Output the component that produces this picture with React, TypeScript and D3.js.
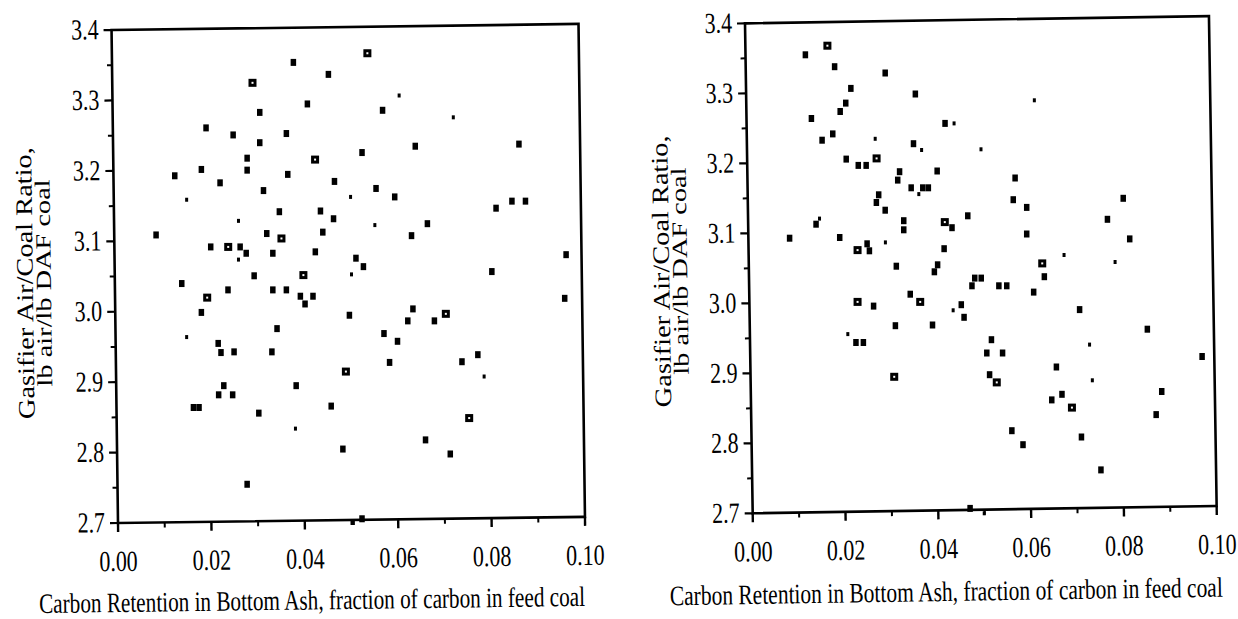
import React from 'react';
import * as d3 from 'd3';

const xTickValues = [0, 0.02, 0.04, 0.06, 0.08, 0.1];
const yTickValues = [2.7, 2.8, 2.9, 3.0, 3.1, 3.2, 3.3, 3.4];
const xTitle = 'Carbon Retention in Bottom Ash, fraction of carbon in feed coal';
const yTitleLine1 = 'Gasifier Air/Coal Ratio,';
const yTitleLine2 = 'lb air/lb DAF coal';

// Left panel: carbon retention (x) vs air/coal ratio (y); marker kind f=filled, o=open, s=small
const leftAsh = [
  0.0375, 0.0288, 0.045, 0.0405, 0.0303, 0.0188, 0.0246, 0.036, 0.0303, 0.0422,
  0.0276, 0.0276, 0.0178, 0.0121, 0.0218, 0.0363, 0.0463, 0.0147, 0.0311, 0.0345,
  0.0433, 0.0461, 0.0258, 0.0081, 0.0318, 0.035, 0.0438, 0.0198, 0.0236, 0.0261,
  0.0274, 0.0258, 0.0331, 0.0422, 0.0291, 0.0397, 0.0136, 0.0235, 0.0331, 0.036,
  0.039, 0.0417, 0.0191, 0.04, 0.0178, 0.0147, 0.0214, 0.022, 0.0248, 0.034,
  0.0329, 0.0226, 0.0215, 0.0245, 0.0161, 0.0173, 0.0301, 0.0381, 0.038, 0.0276,
  0.0456, 0.0534, 0.0602, 0.0566, 0.0718, 0.0636, 0.0858, 0.0522, 0.0552, 0.0592,
  0.0498, 0.0809, 0.0843, 0.0872, 0.055, 0.0662, 0.0628, 0.0509, 0.0525, 0.05,
  0.0959, 0.08, 0.0956, 0.0495, 0.0569, 0.062, 0.0631, 0.0677, 0.0702, 0.0598,
  0.0581, 0.0488, 0.0736, 0.077, 0.0784, 0.0752, 0.0658, 0.0481, 0.0711, 0.0522,
  0.0504,
];
const leftRatio = [
  3.354, 3.325, 3.337, 3.295, 3.283, 3.261, 3.251, 3.253, 3.24, 3.216,
  3.218, 3.201, 3.202, 3.193, 3.183, 3.195, 3.185, 3.159, 3.172, 3.142,
  3.143, 3.132, 3.129, 3.109, 3.111, 3.104, 3.113, 3.092, 3.092, 3.092,
  3.083, 3.074, 3.083, 3.085, 3.051, 3.052, 3.04, 3.031, 3.031, 3.031,
  3.022, 3.022, 3.02, 3.011, 2.999, 2.964, 2.955, 2.942, 2.943, 2.976,
  2.943, 2.895, 2.882, 2.882, 2.864, 2.864, 2.856, 2.895, 2.834, 2.755,
  2.866, 3.367, 3.307, 3.286, 3.276, 3.235, 3.238, 3.226, 3.175, 3.163,
  3.163, 3.147, 3.157, 3.157, 3.123, 3.125, 3.108, 3.076, 3.064, 3.053,
  3.081, 3.057, 3.019, 2.995, 2.969, 2.987, 3.004, 2.987, 2.997, 2.958,
  2.928, 2.915, 2.929, 2.939, 2.908, 2.849, 2.818, 2.805, 2.798, 2.706,
  2.7,
];
const leftMark = [
  'f', 'o', 'f', 'f', 'f', 'f', 'f', 'f', 'f', 'o',
  'f', 'f', 'f', 'f', 'f', 'f', 'f', 's', 'f', 'f',
  'f', 'f', 's', 'f', 'f', 'o', 'f', 'f', 'o', 'f',
  'f', 's', 'f', 'f', 'f', 'o', 'f', 'f', 'f', 'f',
  'f', 'f', 'o', 'f', 'f', 's', 'f', 'f', 'f', 'f',
  'f', 'f', 'f', 'f', 'f', 'f', 'f', 'f', 's', 'f',
  'f', 'o', 's', 'f', 's', 'f', 'f', 'f', 'f', 'f',
  's', 'f', 'f', 'f', 's', 'f', 'f', 'f', 'f', 's',
  'f', 'f', 'f', 'f', 'f', 'f', 'f', 'f', 'o', 'f',
  'f', 'o', 'f', 'f', 's', 'o', 'f', 'f', 'f', 'f',
  's',
];

// Right panel
const rightAsh = [
  0.0113, 0.0161, 0.0176, 0.0285, 0.035, 0.0211, 0.02, 0.0188, 0.0126, 0.0172,
  0.0149, 0.0264, 0.0346, 0.0364, 0.0201, 0.0267, 0.0227, 0.0244, 0.0316, 0.0312,
  0.0397, 0.0341, 0.0366, 0.0378, 0.0358, 0.0271, 0.0266, 0.0285, 0.0325, 0.0325,
  0.0136, 0.0144, 0.0079, 0.0187, 0.0226, 0.0246, 0.0251, 0.0286, 0.0309, 0.0391,
  0.0398, 0.0226, 0.026, 0.0339, 0.0361, 0.0307, 0.0387, 0.0205, 0.0222, 0.0238,
  0.0305, 0.0607, 0.0414, 0.0434, 0.0492, 0.0565, 0.0561, 0.059, 0.0798, 0.0463,
  0.0414, 0.0429, 0.0764, 0.0812, 0.059, 0.0412, 0.0671, 0.0781, 0.0624, 0.0628,
  0.0478, 0.0492, 0.0472, 0.053, 0.0547, 0.0605, 0.0449, 0.0432, 0.0704, 0.0455,
  0.085, 0.0514, 0.0504, 0.0538, 0.0726, 0.0968, 0.0654, 0.0732, 0.051, 0.0526,
  0.0881, 0.0666, 0.0644, 0.0688, 0.0869, 0.0558, 0.0582, 0.0708, 0.075, 0.0468,
  0.0499,
];
const rightRatio = [
  3.355, 3.368, 3.338, 3.329, 3.299, 3.307, 3.286, 3.274, 3.264, 3.242,
  3.233, 3.235, 3.228, 3.219, 3.206, 3.207, 3.197, 3.197, 3.188, 3.176,
  3.189, 3.165, 3.165, 3.165, 3.156, 3.155, 3.144, 3.133, 3.105, 3.118,
  3.113, 3.121, 3.093, 3.094, 3.076, 3.085, 3.075, 3.087, 3.053, 3.045,
  3.055, 3.002, 2.996, 3.013, 3.002, 2.968, 2.969, 2.956, 2.944, 2.944,
  2.895, 3.29, 3.257, 3.257, 3.22, 3.179, 3.148, 3.137, 3.15, 3.125,
  3.116, 3.108, 3.12, 3.092, 3.099, 3.078, 3.069, 3.059, 3.057, 3.038,
  3.036, 3.036, 3.025, 3.025, 3.025, 3.016, 2.998, 2.99, 2.991, 2.98,
  2.963, 2.948, 2.929, 2.929, 2.941, 2.924, 2.909, 2.89, 2.898, 2.887,
  2.874, 2.87, 2.862, 2.851, 2.841, 2.818, 2.798, 2.809, 2.762, 2.707,
  2.7,
];
const rightMark = [
  'f', 'o', 'f', 'f', 'f', 'f', 'f', 'f', 'f', 'f',
  'f', 's', 'f', 's', 'f', 'o', 'f', 'f', 'f', 'f',
  'f', 'f', 'f', 'f', 's', 'f', 'f', 'f', 'f', 'f',
  'f', 's', 'f', 'f', 'o', 'f', 'f', 's', 'f', 'f',
  'f', 'o', 'f', 'f', 'o', 'f', 'f', 's', 'f', 'f',
  'o', 's', 'f', 's', 's', 'f', 'f', 'f', 'f', 'f',
  'o', 'f', 'f', 'f', 'f', 'f', 's', 's', 'o', 'f',
  'f', 'f', 'f', 'f', 'f', 'f', 'f', 's', 'f', 'f',
  'f', 'f', 'f', 'f', 's', 'f', 'f', 's', 'f', 'o',
  'f', 'f', 'f', 'o', 'f', 'f', 'f', 'f', 'f', 'f',
  's',
];

const FONT = '"Liberation Serif", "Times New Roman", Times, serif';
const STRETCH = 1.32;

type PanelProps = {
  ash: number[];
  ratio: number[];
  mark: string[];
  xRange: [number, number];
  yRange: [number, number];
  angle: number;
  xTitleCenter: number;
  xTitleBase: number;
  xTitleWidth: number;
  yTitleBase1: number;
  yTitleBase2: number;
  yTitleCenter: number;
};

function Marker({ cx, cy, kind }: { cx: number; cy: number; kind: string }) {
  if (kind === 'o') {
    return (
      <g>
        <rect x={cx - 4} y={cy - 4} width={8} height={8} fill="#000" />
        <rect x={cx - 1} y={cy - 1} width={2} height={2} fill="#fff" />
      </g>
    );
  }
  if (kind === 's') {
    return <rect x={cx - 1.5} y={cy - 2} width={3} height={4} fill="#000" />;
  }
  return <rect x={cx - 2.5} y={cy - 3.5} width={5.5} height={7} fill="#000" />;
}

function Panel(p: PanelProps) {
  const x = d3.scaleLinear().domain([0, 0.1]).range(p.xRange);
  const y = d3.scaleLinear().domain([2.7, 3.4]).range(p.yRange);
  const [x0, x1] = p.xRange;
  const [yb, yt] = p.yRange;
  const minorX = d3.range(0, 11).filter((i) => i % 2 === 1).map((i) => i / 100);
  const minorY = d3.range(0, 15).filter((i) => i % 2 === 1).map((i) => 2.7 + i * 0.05);
  const fmtX = d3.format('.2f');
  const fmtY = d3.format('.1f');
  const lw = 2.6;
  return (
    <g>
      <g transform={`rotate(${p.angle} ${x0} ${yb})`}>
        <rect x={x0} y={yt} width={x1 - x0} height={yb - yt} fill="none" stroke="#000" strokeWidth={lw} />
        {xTickValues.map((v) => (
          <line key={'xt' + v} x1={x(v)} x2={x(v)} y1={yb} y2={yb + 9} stroke="#000" strokeWidth={2.4} />
        ))}
        {minorX.map((v) => (
          <line key={'xm' + v} x1={x(v)} x2={x(v)} y1={yb} y2={yb + 5} stroke="#000" strokeWidth={2} />
        ))}
        {yTickValues.map((v) => (
          <line key={'yt' + v} x1={x0 - 8} x2={x0} y1={y(v)} y2={y(v)} stroke="#000" strokeWidth={2.2} />
        ))}
        {minorY.map((v) => (
          <line key={'ym' + v} x1={x0 - 5} x2={x0} y1={y(v)} y2={y(v)} stroke="#000" strokeWidth={2} />
        ))}
        {xTickValues.map((v) => (
          <text
            key={'xl' + v}
            transform={`translate(${x(v)},${yb + 48}) scale(1,${STRETCH})`}
            textAnchor="middle"
            fontFamily={FONT}
            fontSize={22}
            fill="#000"
          >
            {fmtX(v)}
          </text>
        ))}
        {yTickValues.map((v) => (
          <text
            key={'yl' + v}
            transform={`translate(${x0 - 13},${y(v) + 9}) scale(1,${STRETCH})`}
            textAnchor="end"
            fontFamily={FONT}
            fontSize={22}
            fill="#000"
          >
            {fmtY(v)}
          </text>
        ))}
        <text
          transform={`translate(${p.xTitleCenter},${p.xTitleBase}) scale(1,${STRETCH})`}
          textAnchor="middle"
          fontFamily={FONT}
          fontSize={21.3}
          textLength={p.xTitleWidth}
          lengthAdjust="spacingAndGlyphs"
          fill="#000"
        >
          {xTitle}
        </text>
        <text
          transform={`translate(${p.yTitleBase1},${p.yTitleCenter}) scale(1.1,${STRETCH}) rotate(-90)`}
          textAnchor="middle"
          fontFamily={FONT}
          fontSize={21.5}
          fill="#000"
        >
          {yTitleLine1}
        </text>
        <text
          transform={`translate(${p.yTitleBase2},${p.yTitleCenter}) scale(1,${STRETCH}) rotate(-90)`}
          textAnchor="middle"
          fontFamily={FONT}
          fontSize={21.5}
          fill="#000"
        >
          {yTitleLine2}
        </text>
      </g>
      {p.ash.map((a, i) => (
        <Marker key={'m' + i} cx={x(a)} cy={y(p.ratio[i])} kind={p.mark[i]} />
      ))}
    </g>
  );
}

export default function App() {
  return (
    <svg
      width={1238}
      height={619}
      style={{ position: 'absolute', left: 0, top: 0, background: '#fff' }}
    >
      <rect x={0} y={0} width={1238} height={619} fill="#fff" />
      <Panel
        ash={leftAsh}
        ratio={leftRatio}
        mark={leftMark}
        xRange={[118, 585]}
        yRange={[523, 30]}
        angle={-0.75}
        xTitleCenter={311}
        xTitleBase={612}
        xTitleWidth={546}
        yTitleBase1={36}
        yTitleBase2={54}
        yTitleCenter={282}
      />
      <Panel
        ash={rightAsh}
        ratio={rightRatio}
        mark={rightMark}
        xRange={[752.7, 1216.7]}
        yRange={[513.3, 23.3]}
        angle={-0.9}
        xTitleCenter={945}
        xTitleBase={604}
        xTitleWidth={553}
        yTitleBase1={673}
        yTitleBase2={691}
        yTitleCenter={270}
      />
    </svg>
  );
}
